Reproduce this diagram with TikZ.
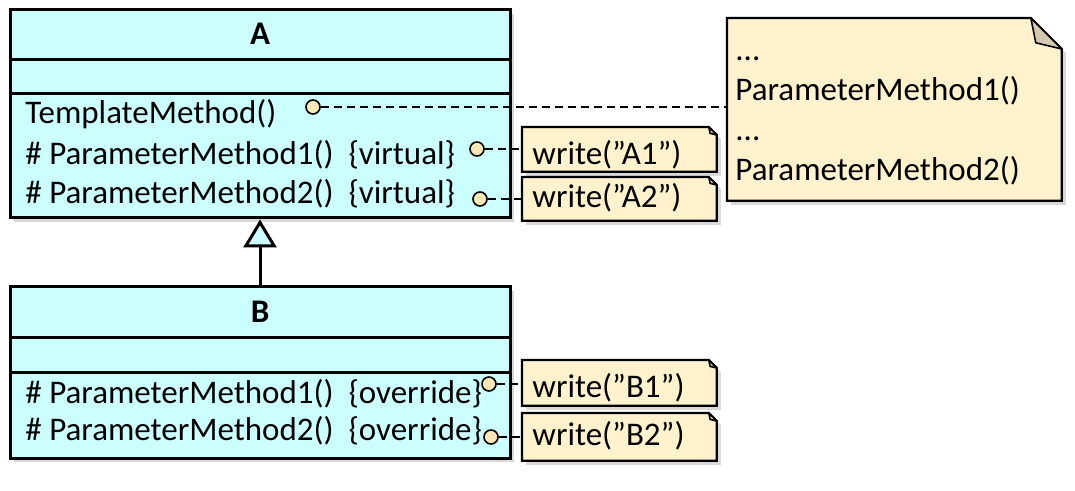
\documentclass[tikz,border=0pt]{standalone}
\usepackage{fontspec}
\setmainfont{Carlito}
\usetikzlibrary{arrows.meta,shadows,backgrounds}

\definecolor{clsfill}{HTML}{CCFFFF}
\definecolor{notefill}{HTML}{FFF2CC}
\definecolor{foldfill}{HTML}{D3C9AE}
\definecolor{portfill}{HTML}{FFE8B6}

\tikzset{
  classbox/.style={draw, line width=1.5pt, fill=clsfill, inner sep=0pt,
    drop shadow={opacity=0.3, shadow xshift=2pt, shadow yshift=-2pt}},
  member/.style={anchor=base west, inner sep=0pt},
  classname/.style={anchor=base, inner sep=0pt, font=\fontsize{16.5}{20}\selectfont\bfseries},
  port/.style={circle, draw, line width=0.8pt, fill=portfill, minimum size=7pt, inner sep=0pt},
  link/.style={line width=1pt, dash pattern=on 4pt off 2.5pt},
  notebox/.style 2 args={anchor=north west, inner xsep=5pt, inner ysep=0pt, align=left,
    text height=#1, text depth=#2},
  noteshape/.style={draw, line width=1.1pt, fill=notefill,
    drop shadow={opacity=0.3, shadow xshift=2pt, shadow yshift=-2pt}},
  foldshape/.style={draw, line width=0.8pt, fill=foldfill, line join=round}
}

\begin{document}
\begin{tikzpicture}[x=0.5pt, y=-0.5pt, font=\fontsize{16.5}{20}\selectfont]
  \useasboundingbox (0,0) rectangle (1075,491);

  % class A
  \node[classbox, minimum width=250pt, minimum height=104pt] (A) at (260,114) {};
  \draw[line width=1.5pt] (10,60) -- (510,60) (10,94) -- (510,94);
  \node[classname] (Aname) at (260,45) {A};
  \node[member] (Atm) at (25,124) {TemplateMethod()};
  \node[member] (Ap1) at (25,165) {\# ParameterMethod1()\ \ \{virtual\}};
  \node[member] (Ap2) at (25,204) {\# ParameterMethod2()\ \ \{virtual\}};
  \node[port] (Atmc) at (313,107) {};
  \node[port] (Ap1c) at (477,149) {};
  \node[port] (Ap2c) at (480,199) {};

  % class B
  \node[classbox, minimum width=250pt, minimum height=85.5pt] (B) at (260,372.5) {};
  \draw[line width=1.5pt] (10,338) -- (510,338) (10,372) -- (510,372);
  \node[classname] (Bname) at (260,322) {B};
  \node[member] (Bp1) at (25,403) {\# ParameterMethod1()\ \ \{override\}};
  \node[member] (Bp2) at (25,440) {\# ParameterMethod2()\ \ \{override\}};
  \node[port] (Bp1c) at (489,384) {};
  \node[port] (Bp2c) at (491,437) {};

  % notes
  \node[notebox={18.5pt}{3.5pt}, text width=87pt] (nA1) at (522,127) {write(”A1”)};
  \node[notebox={15pt}{6.5pt}, text width=87pt] (nA2) at (522,177) {write(”A2”)};
  \node[notebox={18.5pt}{4pt}, text width=87pt] (nB1) at (522,360) {write(”B1”)};
  \node[notebox={16pt}{7.5pt}, text width=87pt] (nB2) at (522,413) {write(”B2”)};
  \node[notebox={21pt}{70pt}, inner xsep=4pt, text width=159pt] (nT) at (727,18)
    {...\\ParameterMethod1()\\...\\ParameterMethod2()};

  \begin{scope}[on background layer]
    \foreach \nt/\fd in {nA1/4pt, nA2/4pt, nB1/4pt, nB2/4pt, nT/15.5pt}{
      \draw[noteshape] (\nt.south west) -- (\nt.north west) -- ([xshift=-\fd]\nt.north east)
        -- ([yshift=-\fd]\nt.north east) -- (\nt.south east) -- cycle;
      \draw[foldshape] ([xshift=-\fd]\nt.north east) -- ([xshift=-0.84*\fd, yshift=-0.8*\fd]\nt.north east)
        -- ([yshift=-\fd]\nt.north east) -- cycle;
    }
  \end{scope}

  % connectors
  \draw[line width=1.5pt, -{Triangle[length=14pt, width=16.5pt, fill=clsfill]}] (B.north) -- (A.south);
  \draw[link] (Atmc) -- (Atmc -| nT.west);
  \draw[link] (Ap1c) -- (Ap1c -| nA1.west);
  \draw[link] (Ap2c) -- (Ap2c -| nA2.west);
  \draw[link] (Bp1c) -- (Bp1c -| nB1.west);
  \draw[link] (Bp2c) -- (Bp2c -| nB2.west);
\end{tikzpicture}
\end{document}
